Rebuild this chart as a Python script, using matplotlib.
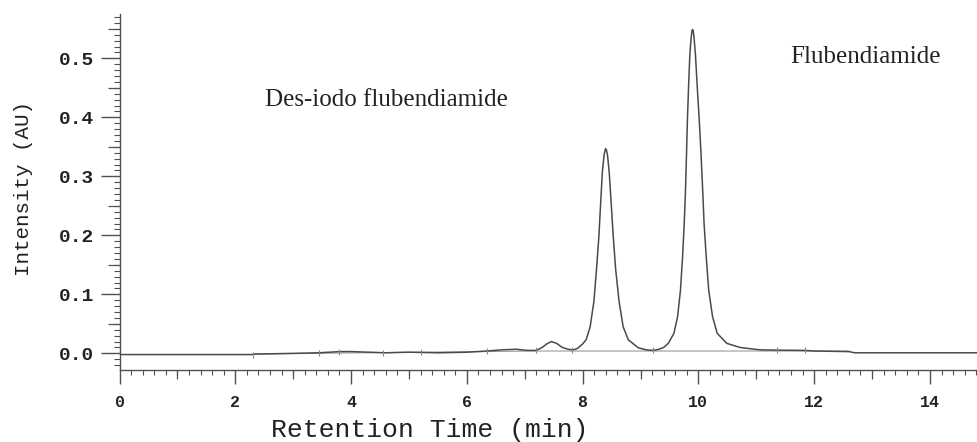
import matplotlib
matplotlib.use('Agg')
import matplotlib.pyplot as plt
from matplotlib.ticker import MultipleLocator, FixedLocator

# ---------------- data ----------------
time_min = [0.0, 1.0, 2.3, 2.35, 2.45, 3.0, 3.45, 3.8, 4.0, 4.3, 4.6, 5.0,
            5.5, 6.0, 6.35, 6.6, 6.85, 7.05, 7.2, 7.3, 7.38, 7.46, 7.55,
            7.65, 7.75, 7.82, 7.88, 7.925, 8.0, 8.06, 8.13, 8.195, 8.24,
            8.28, 8.31, 8.34, 8.37, 8.39, 8.40, 8.41, 8.43, 8.46, 8.495,
            8.53, 8.57, 8.63, 8.70, 8.79, 8.96, 9.1, 9.22, 9.32, 9.40,
            9.48, 9.577, 9.64, 9.69, 9.727, 9.755, 9.775, 9.795, 9.81,
            9.83, 9.853, 9.875, 9.89, 9.90, 9.91, 9.925, 9.948, 9.98,
            10.015, 10.045, 10.077, 10.098, 10.135, 10.178, 10.245, 10.325,
            10.49, 10.72, 11.06, 11.35, 11.85, 12.0, 12.6, 12.7, 14.83]
intensity = [-0.002, -0.002, -0.002, -0.001, -0.001, 0.000, 0.001, 0.003,
             0.003, 0.002, 0.001, 0.002, 0.001, 0.002, 0.004, 0.006, 0.007,
             0.005, 0.005, 0.010, 0.016, 0.020, 0.017, 0.010, 0.007, 0.006,
             0.007, 0.0095, 0.016, 0.023, 0.045, 0.088, 0.143, 0.197, 0.252,
             0.306, 0.336, 0.345, 0.347, 0.345, 0.336, 0.306, 0.252, 0.197,
             0.143, 0.088, 0.045, 0.023, 0.0095, 0.006, 0.005, 0.007, 0.010,
             0.017, 0.034, 0.062, 0.107, 0.164, 0.220, 0.270, 0.339, 0.395,
             0.452, 0.508, 0.535, 0.547, 0.549, 0.547, 0.535, 0.508, 0.452,
             0.395, 0.339, 0.270, 0.220, 0.164, 0.107, 0.062, 0.034, 0.017,
             0.010, 0.006, 0.0055, 0.005, 0.004, 0.003, 0.001, 0.001]

baseline_t = [2.3, 7.2, 12.6]
baseline_y = [-0.001, 0.004, 0.004]

event_t = [2.3, 3.45, 3.8, 4.55, 5.2, 6.35, 7.2, 7.82, 9.22, 11.35, 11.85]
event_y = [-0.002, 0.001, 0.003, 0.001, 0.002, 0.004, 0.005, 0.006, 0.005,
           0.0055, 0.005]

x_ticks = [0, 2, 4, 6, 8, 10, 12, 14]
x_mid_ticks = [1, 3, 5, 7, 9, 11, 13]
y_ticks = [0.0, 0.1, 0.2, 0.3, 0.4, 0.5]
y_tick_labels = ['0.0', '0.1', '0.2', '0.3', '0.4', '0.5']
y_mid_ticks = [0.05, 0.15, 0.25, 0.35, 0.45, 0.55]

label_desiodo = 'Des-iodo flubendiamide'
label_flu = 'Flubendiamide'

# ---------------- figure ----------------
fig = plt.figure(figsize=(9.78, 4.42), dpi=100)
ax = fig.add_axes([0.1222, 0.1618, 0.8778, 0.8062])

line_col = '#4a4a4a'
axis_col = '#505050'

ax.plot(baseline_t, baseline_y, color='#9a9a9a', lw=0.8, zorder=2)
ax.plot(time_min, intensity, color=line_col, lw=1.1, zorder=3,
        solid_joinstyle='round')
ax.plot(event_t, event_y, ls='none', marker='|', ms=5, mew=0.8,
        color='#8a8a8a', zorder=3)

ax.set_xlim(0, 14.83)
ax.set_ylim(-0.029, 0.575)

for s in ['top', 'right']:
    ax.spines[s].set_visible(False)
for s in ['left', 'bottom']:
    ax.spines[s].set_color(axis_col)
    ax.spines[s].set_linewidth(1.0)

ax.xaxis.set_major_locator(FixedLocator(x_ticks))
ax.xaxis.set_minor_locator(MultipleLocator(0.2))
ax.yaxis.set_major_locator(FixedLocator(y_ticks))
ax.set_yticklabels(y_tick_labels)
ax.yaxis.set_minor_locator(MultipleLocator(0.01))

ax.tick_params(axis='x', which='major', direction='out', length=10,
               width=1.0, color=axis_col, pad=8)
ax.tick_params(axis='x', which='minor', direction='out', length=3.3,
               width=0.8, color=axis_col)
ax.tick_params(axis='y', which='major', direction='out', length=13.5,
               width=1.0, color=axis_col, pad=5)
ax.tick_params(axis='y', which='minor', direction='out', length=4.5,
               width=0.8, color=axis_col)

for lab in ax.get_xticklabels():
    lab.set_fontfamily('Liberation Mono')
    lab.set_fontweight('bold')
    lab.set_fontsize(12)
    lab.set_color('#222222')
for lab in ax.get_yticklabels():
    lab.set_fontfamily('Liberation Mono')
    lab.set_fontweight('bold')
    lab.set_fontsize(14)
    lab.set_color('#222222')

# medium ticks
secx = ax.secondary_xaxis('bottom')
secx.set_xticks(x_mid_ticks)
secx.tick_params(length=6.5, width=0.9, color=axis_col, labelbottom=False)
secx.spines['bottom'].set_visible(False)

secy = ax.secondary_yaxis('left')
secy.set_yticks(y_mid_ticks)
secy.tick_params(length=8.5, width=0.9, color=axis_col, labelleft=False)
secy.spines['left'].set_visible(False)

ax.set_xlabel('Retention Time (min)', fontfamily='Liberation Mono',
              fontsize=19, color='#222222', va='center')
ax.xaxis.set_label_coords(0.3617, -0.167)
ax.set_ylabel('Intensity (AU)', fontfamily='Liberation Mono',
              fontsize=15, color='#222222', va='center')
ax.yaxis.set_label_coords(-0.112, 0.512)

ax.text(0.1695, 0.759, label_desiodo, transform=ax.transAxes,
        fontfamily='Liberation Serif', fontsize=18, color='#222222',
        ha='left', va='center')
ax.text(0.781, 0.879, label_flu, transform=ax.transAxes,
        fontfamily='Liberation Serif', fontsize=18, color='#222222',
        ha='left', va='center')

fig.savefig('out.png', dpi=100)
